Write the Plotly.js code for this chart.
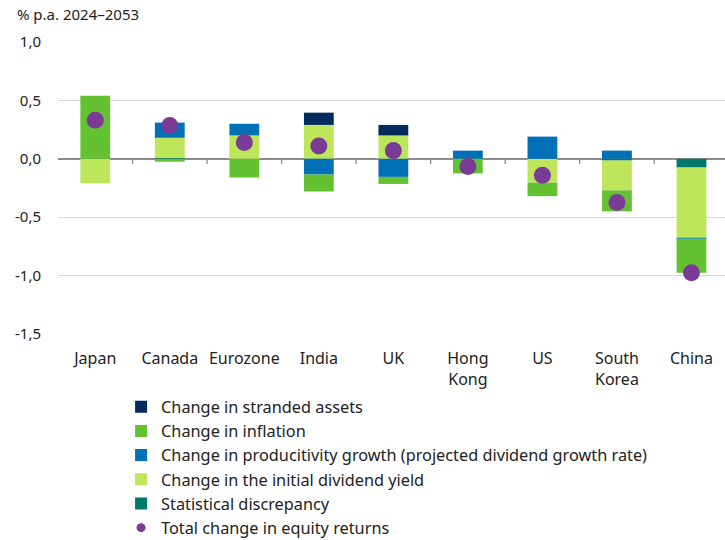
<!DOCTYPE html>
<html>
<head>
<meta charset="utf-8">
<script src="https://cdn.plot.ly/plotly-3.0.1.min.js"></script>
<style>html,body{margin:0;padding:0;background:#fff;}#chart{width:725px;height:540px;}</style>
</head>
<body>
<div id="chart"></div>
<script>
const categories = ['Japan', 'Canada', 'Eurozone', 'India', 'UK', 'Hong<br>Kong', 'US', 'South<br>Korea', 'China'];
const strandedAssets = [0, 0, 0, 0.105, 0.09, 0, 0, 0, 0];
const inflation = [0.54, -0.025, -0.16, -0.145, -0.06, -0.125, -0.115, -0.18, -0.29];
const productivity = [0, 0.13, 0.10, -0.135, -0.155, 0.07, 0.19, 0.07, -0.01];
const dividendYield = [-0.21, 0.17, 0.20, 0.29, 0.20, 0, -0.205, -0.255, -0.60];
const discrepancy = [0, 0.01, 0, 0, 0, 0, 0, -0.015, -0.075];
const totalChange = [0.33, 0.285, 0.14, 0.11, 0.07, -0.065, -0.14, -0.375, -0.975];
const yTickVals = [-1.5, -1.0, -0.5, 0, 0.5, 1.0];
const yTickText = ['-1,5', '-1,0', '-0,5', '0,0', '0,5', '1,0'];

const FONT = '"Noto Sans", "Open Sans", sans-serif';
const idx = categories.map((c, i) => i);

function barTrace(name, y, color, rank) {
  return {type: 'bar', name: name, x: idx, y: y, legendrank: rank,
    marker: {color: color, line: {width: 0}}, width: 0.4};
}

const traces = [
  barTrace('Statistical discrepancy', discrepancy, '#00796b', 5),
  barTrace('Change in the initial dividend yield', dividendYield, '#bde65a', 4),
  barTrace('Change in producitivity growth (projected dividend growth rate)', productivity, '#0071b7', 3),
  barTrace('Change in inflation', inflation, '#64c232', 2),
  barTrace('Change in stranded assets', strandedAssets, '#002b5c', 1),
  {type: 'scatter', mode: 'markers', name: 'Total change in equity returns', x: idx, y: totalChange,
    showlegend: false, marker: {color: '#7a3b96', size: 17}},
  {type: 'scatter', mode: 'markers', name: 'Total change in equity returns', x: [null], y: [null],
    legendrank: 6, marker: {color: '#7a3b96', size: 9}}
];

const boundaryTicks = categories.slice(0, -1).map((c, i) => ({
  type: 'line', xref: 'x', yref: 'y', x0: i + 0.5, x1: i + 0.5, y0: 0, y1: -0.045,
  line: {color: '#8c8c8c', width: 1.3}, layer: 'below'
}));

const layout = {
  width: 725, height: 540,
  margin: {l: 58, r: 0, t: 42, b: 206, autoexpand: false},
  paper_bgcolor: '#fff', plot_bgcolor: '#fff',
  font: {family: FONT, size: 15, color: '#222'},
  barmode: 'relative',
  showlegend: true,
  hovermode: false,
  xaxis: {
    range: [-0.5, 8.45], tickvals: idx, ticktext: categories,
    showgrid: false, zeroline: false, showline: false, ticks: '',
    ticklabelstandoff: 13, tickfont: {size: 16}, automargin: false
  },
  yaxis: {
    range: [-1.5, 1.0], tickvals: yTickVals, ticktext: yTickText,
    showgrid: true, gridcolor: '#d9d9d9', gridwidth: 1.3,
    zeroline: true, zerolinecolor: '#8c8c8c', zerolinewidth: 2,
    showline: false, ticks: '', ticklabelstandoff: 16, tickfont: {size: 15}, automargin: false
  },
  legend: {
    xref: 'container', yref: 'container',
    x: 0.167, xanchor: 'left', y: 0.2785, yanchor: 'top',
    font: {size: 16.3}, itemsizing: 'trace', tracegroupgap: 0,
    bgcolor: 'rgba(0,0,0,0)'
  },
  shapes: boundaryTicks,
  annotations: [{
    text: '% p.a. 2024–2053', xref: 'paper', yref: 'paper', x: -0.065, y: 1.0,
    xanchor: 'left', yanchor: 'bottom', yshift: 16, showarrow: false,
    font: {size: 15, family: FONT, color: '#222'}
  }]
};

Plotly.newPlot('chart', traces, layout, {displayModeBar: false, staticPlot: true});
</script>
</body>
</html>
